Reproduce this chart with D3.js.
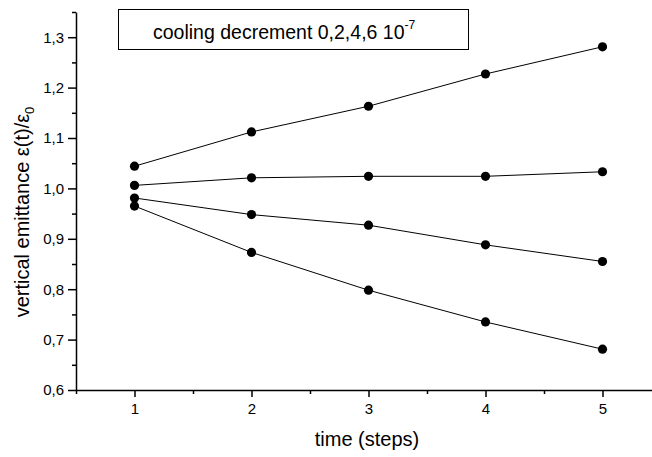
<!DOCTYPE html>
<html>
<head>
<meta charset="utf-8">
<script src="https://cdn.jsdelivr.net/npm/d3@7/dist/d3.min.js"></script>
<style>
  body { margin: 0; background: #fff; }
  svg { display: block; font-family: "Liberation Sans", Arial, sans-serif; }
  .axis path, .axis line { stroke: #000; stroke-width: 1.5; }
  .axis text { fill: #000; font-size: 15px; font-family: "Liberation Sans", Arial, sans-serif; }
</style>
</head>
<body>
<div id="chart"></div>
<script>
// time steps
var steps = [1, 2, 3, 4, 5];
// emittance ratio eps(t)/eps0 for cooling decrement 0, 2, 4, 6 (x 10^-7)
var cooling0 = [1.044, 1.112, 1.163, 1.227, 1.281];
var cooling2 = [1.006, 1.021, 1.024, 1.024, 1.033];
var cooling4 = [0.981, 0.948, 0.927, 0.888, 0.855];
var cooling6 = [0.965, 0.873, 0.798, 0.735, 0.681];
var series = [cooling0, cooling2, cooling4, cooling6];

var xTicks = [1, 2, 3, 4, 5],
    xMinor = [0.5, 1.5, 2.5, 3.5, 4.5, 5.5],
    yTicks = [0.6, 0.7, 0.8, 0.9, 1.0, 1.1, 1.2, 1.3],
    yMinor = [0.65, 0.75, 0.85, 0.95, 1.05, 1.15, 1.25, 1.35];

var W = 652, H = 457;
var svg = d3.select('#chart').append('svg')
    .attr('width', W)
    .attr('height', H);

var x = d3.scaleLinear().domain([0.5, 5.5]).range([76, 661]),
    y = d3.scaleLinear().domain([0.6, 1.35]).range([390, 12]);

var comma = function(d){ return d3.format('.1f')(d).replace('.', ','); };

// minor ticks first, then main axes on top
svg.append('g').attr('class', 'axis')
    .attr('transform', 'translate(0,' + y(0.6) + ')')
    .call(d3.axisBottom(x).tickValues(xMinor).tickSize(4).tickFormat(''))
    .select('.domain').remove();
svg.append('g').attr('class', 'axis')
    .attr('transform', 'translate(' + x(0.5) + ',0)')
    .call(d3.axisLeft(y).tickValues(yMinor).tickSize(4).tickFormat(''))
    .select('.domain').remove();

svg.append('g').attr('class', 'axis axis--x')
    .attr('transform', 'translate(0,' + y(0.6) + ')')
    .call(d3.axisBottom(x).tickValues(xTicks).tickSize(7).tickSizeOuter(0).tickPadding(6).tickFormat(d3.format('d')));

svg.append('g').attr('class', 'axis axis--y')
    .attr('transform', 'translate(' + x(0.5) + ',0)')
    .call(d3.axisLeft(y).tickValues(yTicks).tickSize(8).tickSizeOuter(0).tickPadding(4).tickFormat(comma));

// lines + markers
var line = d3.line()
    .x(function(d, i){ return x(steps[i]); })
    .y(function(d){ return y(d); });

series.forEach(function(s, k){
    var g = svg.append('g').attr('class', 'dataGroup').attr('id', 'dataGroup' + k);
    g.append('path')
        .datum(s)
        .attr('d', line)
        .attr('fill', 'none')
        .attr('stroke', '#000')
        .attr('stroke-width', 1);
    g.selectAll('.point')
        .data(s)
        .enter().append('circle')
        .attr('class', 'point')
        .attr('cx', function(d, i){ return x(steps[i]); })
        .attr('cy', function(d){ return y(d); })
        .attr('r', 4.6)
        .attr('fill', '#000');
});

// axis titles
svg.append('text')
    .attr('x', 367).attr('y', 446)
    .attr('text-anchor', 'middle')
    .style('font-size', '20px')
    .text('time (steps)');

var yl = svg.append('text')
    .attr('transform', 'translate(29,212) rotate(-90)')
    .attr('text-anchor', 'middle')
    .style('font-size', '20px');
yl.append('tspan').text('vertical emittance \u03b5(t)/\u03b5');
yl.append('tspan').attr('dy', 5).style('font-size', '13px').text('0');

// legend box
var legend = svg.append('g').attr('class', 'legend');
legend.append('rect')
    .attr('x', 118.5).attr('y', 9.5)
    .attr('width', 350).attr('height', 40)
    .attr('fill', '#fff')
    .attr('stroke', '#000')
    .attr('stroke-width', 1);
var lt = legend.append('text')
    .attr('x', 153).attr('y', 39)
    .style('font-size', '19.5px');
lt.append('tspan').text('cooling decrement 0,2,4,6 10');
lt.append('tspan').attr('dy', -10).style('font-size', '12px').text('-7');
</script>
</body>
</html>
